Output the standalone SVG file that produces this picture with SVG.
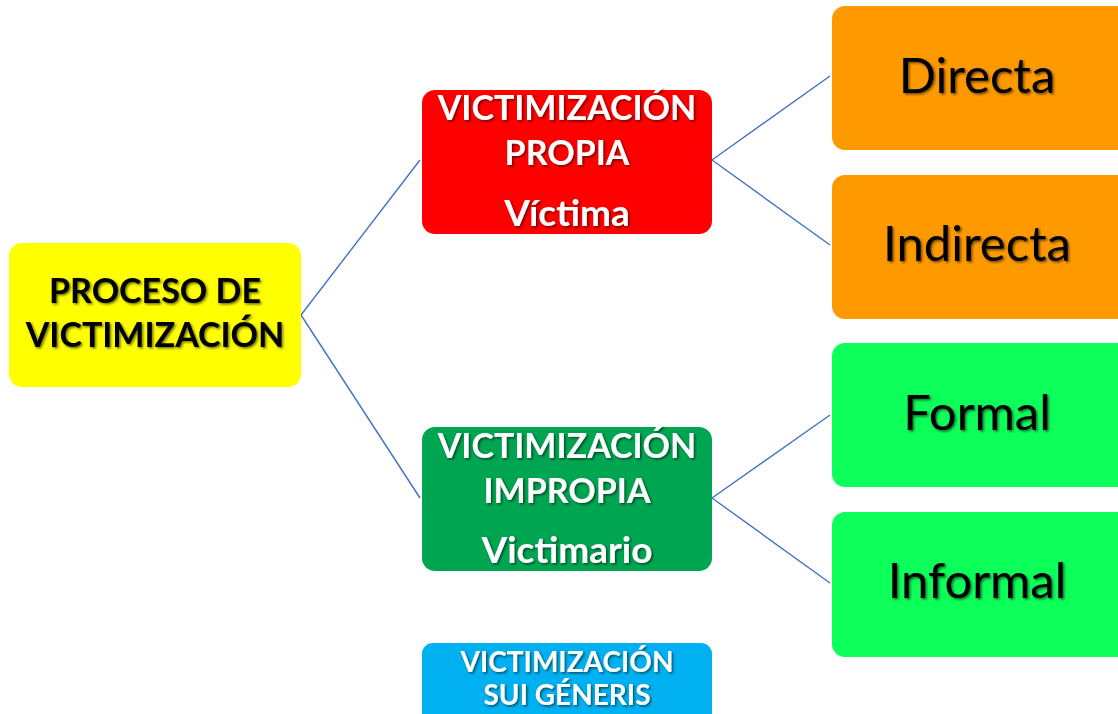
<svg xmlns="http://www.w3.org/2000/svg" width="1118" height="714" viewBox="0 0 1118 714">
<defs>
<filter id="sh" x="-10%" y="-20%" width="130%" height="150%">
<feDropShadow dx="1.5" dy="1.5" stdDeviation="1" flood-color="#000" flood-opacity="0.55"/>
</filter>
<style>
.box{stroke:none}
.t{font-family:Lato,"Open Sans","Liberation Sans",sans-serif;text-anchor:middle;filter:url(#sh)}
.b{font-weight:bold;font-size:34px}
.s{font-size:37px}
.w{fill:#fff}
.k{fill:#000}
.big{font-size:49px;font-weight:normal}
.con line{stroke:#4472C4;stroke-width:1.4;fill:none}
</style>
</defs>
<rect width="1118" height="714" fill="#fff"/>
<g class="con">
<line x1="301" y1="315" x2="420" y2="160"/>
<line x1="301" y1="315" x2="420" y2="498"/>
<line x1="712" y1="160" x2="830" y2="76"/>
<line x1="712" y1="160" x2="830" y2="245"/>
<line x1="712" y1="498" x2="830" y2="415"/>
<line x1="712" y1="498" x2="830" y2="583"/>
</g>
<g id="proceso">
<rect class="box" x="9" y="243" width="292" height="144" rx="13" fill="#FFFF00"/>
<text class="t b k" x="155" y="303">PROCESO DE</text>
<text class="t b k" x="155" y="347">VICTIMIZACIÓN</text>
</g>
<g id="propia">
<rect class="box" x="422" y="90" width="290" height="144" rx="13" fill="#FF0000"/>
<text class="t b w" x="567" y="120">VICTIMIZACIÓN</text>
<text class="t b w" x="567" y="165">PROPIA</text>
<text class="t b w s" x="567" y="226">Víctima</text>
</g>
<g id="impropia">
<rect class="box" x="422" y="427" width="290" height="144" rx="13" fill="#00A551"/>
<text class="t b w" x="567" y="458">VICTIMIZACIÓN</text>
<text class="t b w" x="567" y="503">IMPROPIA</text>
<text class="t b w s" x="567" y="563">Victimario</text>
</g>
<g id="suigeneris">
<rect class="box" x="422" y="643" width="290" height="90" rx="11" fill="#00B0F0"/>
<text class="t w" x="567" y="672" style="font-size:28px;font-weight:bold">VICTIMIZACIÓN</text>
<text class="t w" x="567" y="705" style="font-size:28px;font-weight:bold">SUI GÉNERIS</text>
</g>
<g id="directa">
<rect class="box" x="832" y="6" width="300" height="144" rx="13" fill="#FF9900"/>
<text class="t big k" x="977" y="93">Directa</text>
</g>
<g id="indirecta">
<rect class="box" x="832" y="175" width="300" height="144" rx="13" fill="#FF9900"/>
<text class="t big k" x="977" y="261">Indirecta</text>
</g>
<g id="formal">
<rect class="box" x="832" y="343" width="300" height="144" rx="13" fill="#0DFF5A"/>
<text class="t big k" x="977" y="430">Formal</text>
</g>
<g id="informal">
<rect class="box" x="832" y="512" width="300" height="145" rx="13" fill="#0DFF5A"/>
<text class="t big k" x="977" y="598">Informal</text>
</g>
</svg>
